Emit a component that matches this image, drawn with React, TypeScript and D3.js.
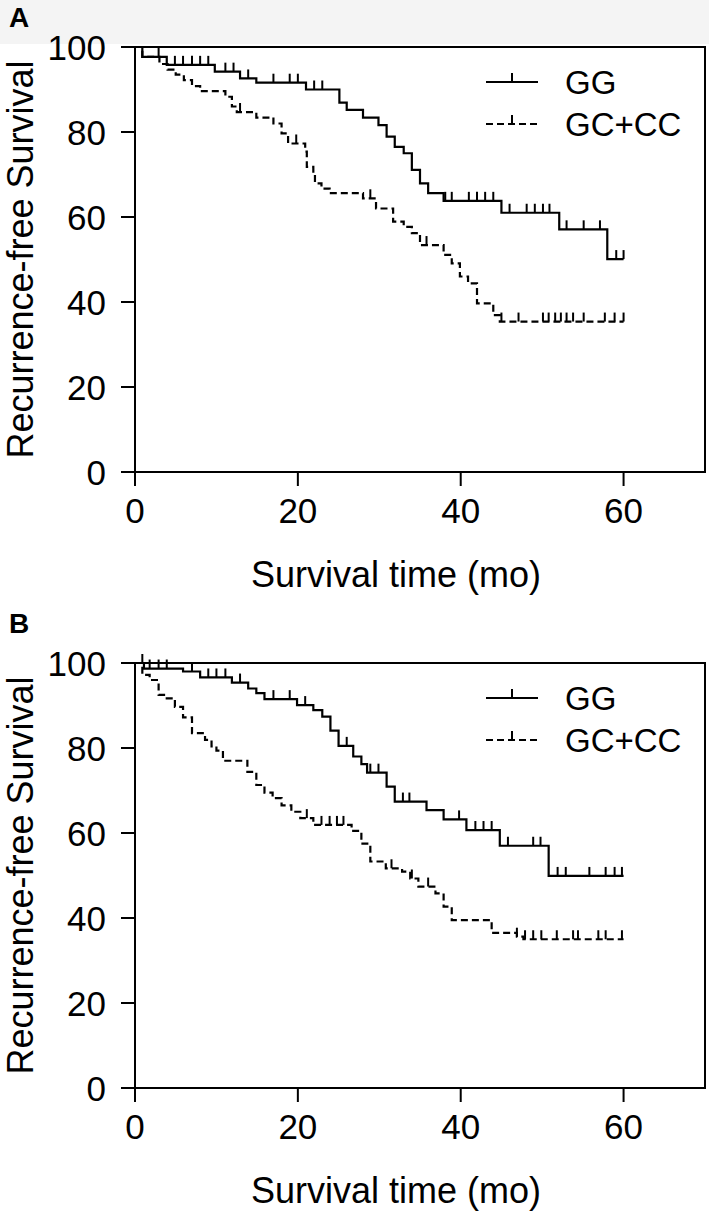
import React from "react";
import * as d3 from "d3";

// tick labels and groups
const xTicks = [0, 20, 40, 60];
const yTicks = [0, 20, 40, 60, 80, 100];
const groups = ["GG", "GC+CC"];

// Panel A, GG: event times (mo) and survival (%) after each drop, censor times
const aGGTime = [0.9, 3.9, 9.8, 12.9, 14.9, 21.0, 25.1, 26.0, 28.0, 29.9, 30.9, 31.9, 33.0, 34.0, 35.0, 36.0, 37.9, 45.0, 52.1, 58.0];
const aGGSurv = [97.7, 95.8, 94.2, 92.6, 91.6, 90.0, 86.9, 85.2, 83.4, 81.6, 78.9, 76.5, 75.0, 71.1, 67.9, 65.6, 63.8, 61.0, 57.1, 50.1];
const aGGCens = [2.9, 4.9, 5.9, 7.0, 8.0, 9.0, 11.1, 12.1, 13.9, 17.0, 19.0, 20.0, 22.0, 23.0, 38.1, 38.9, 41.0, 42.0, 43.0, 44.0, 46.0, 48.1, 49.1, 50.1, 50.9, 53.0, 55.1, 57.1, 59.1, 60.0];

// Panel A, GC+CC
const aGCTime = [0.9, 3.0, 4.0, 5.0, 6.0, 7.0, 8.0, 11.1, 11.9, 12.5, 14.9, 17.0, 18.0, 18.8, 20.9, 21.1, 21.9, 22.1, 22.9, 23.9, 28.0, 29.6, 31.7, 33.0, 34.0, 35.0, 37.9, 38.9, 39.9, 40.9, 42.0, 44.0, 44.8];
const aGCSurv = [97.7, 96.0, 94.7, 93.5, 92.2, 90.8, 89.6, 88.3, 86.0, 84.7, 83.4, 82.0, 79.7, 77.3, 75.4, 71.8, 70.3, 67.9, 66.7, 65.6, 64.4, 62.0, 58.9, 57.7, 56.2, 53.4, 51.1, 49.1, 46.0, 44.4, 39.7, 36.9, 35.4];
const aGCCens = [12.9, 19.8, 28.9, 35.8, 45.0, 47.1, 50.1, 50.8, 51.6, 52.3, 53.0, 53.8, 55.1, 57.7, 58.9, 60.0];

// Panel B, GG
const bGGTime = [1.1, 5.9, 8.0, 11.9, 13.9, 14.9, 15.9, 19.9, 21.9, 23.0, 24.0, 25.0, 26.8, 27.8, 28.5, 30.9, 31.9, 35.8, 37.9, 40.7, 44.8, 50.8];
const bGGSurv = [98.7, 98.0, 96.6, 95.4, 94.0, 92.9, 91.5, 90.1, 88.9, 87.4, 84.1, 80.5, 78.0, 76.2, 74.2, 70.9, 67.4, 65.4, 63.2, 60.7, 57.0, 49.9];
const bGGCens = [0.9, 1.8, 2.9, 3.9, 7.0, 9.0, 10.0, 11.1, 12.9, 17.0, 19.0, 20.9, 26.0, 28.9, 29.9, 32.9, 33.7, 39.8, 41.8, 42.8, 43.8, 45.8, 48.9, 49.8, 51.9, 52.9, 55.8, 57.8, 58.9, 59.8];

// Panel B, GC+CC
const bGCTime = [0.9, 1.8, 2.9, 3.9, 4.9, 5.9, 7.0, 8.6, 9.4, 10.0, 10.8, 13.8, 14.9, 15.9, 16.9, 18.0, 19.2, 20.3, 21.9, 26.6, 27.8, 28.9, 30.8, 32.8, 33.8, 34.8, 36.9, 37.9, 38.9, 43.8, 46.9, 47.7];
const bGCSurv = [97.2, 96.0, 92.5, 91.7, 89.7, 87.2, 83.5, 81.9, 80.4, 79.4, 77.0, 74.4, 71.3, 69.5, 68.2, 66.5, 65.0, 63.5, 61.9, 60.5, 57.5, 53.3, 51.7, 50.9, 49.3, 47.4, 45.8, 42.7, 39.5, 36.5, 35.6, 35.0];
const bGCCens = [21.1, 22.9, 23.9, 24.8, 25.6, 31.5, 34.0, 36.0, 46.9, 47.9, 48.9, 49.9, 51.8, 53.8, 54.4, 56.9, 57.8, 59.8];

const FONT = "'Liberation Sans', Arial, Helvetica, sans-serif";
const W = 709;
const H = 1213;
const PH = 425; // plot height
const END = 60;

const x = d3.scaleLinear().domain([0, 70]).range([135, 705]);

function survAt(times, surv, t) {
  let s = 100;
  times.forEach((tt, i) => {
    if (tt <= t) s = surv[i];
  });
  return s;
}

function Curve({ y, times, surv, cens, dashed }) {
  const pts = [[0, 100], ...times.map((t, i) => [t, surv[i]]), [END, surv[surv.length - 1]]];
  const line = d3
    .line()
    .x((d) => x(d[0]))
    .y((d) => y(d[1]))
    .curve(d3.curveStepAfter);
  return (
    <g>
      <path d={line(pts)} fill="none" stroke="#000" strokeWidth={2.2} strokeDasharray={dashed ? "7,4" : null} />
      {cens.map((c, i) => {
        const yy = y(survAt(times, surv, c));
        return <line key={i} x1={x(c)} x2={x(c)} y1={yy} y2={yy - 9} stroke="#000" strokeWidth={2} />;
      })}
    </g>
  );
}

function Panel({ top, letter, letterY, gg, gc }) {
  const y = d3.scaleLinear().domain([0, 100]).range([top + PH, top]);
  const bottom = top + PH;
  const midY = top + PH / 2;
  return (
    <g>
      <text x={9} y={letterY} fontFamily={FONT} fontWeight="bold" fontSize={28}>
        {letter}
      </text>

      {/* frame */}
      <rect x={x(0)} y={top} width={x(70) - x(0)} height={PH} fill="#fff" stroke="#000" strokeWidth={2} />

      {/* y axis */}
      {yTicks.map((t) => (
        <g key={t}>
          <line x1={121} x2={x(0)} y1={y(t)} y2={y(t)} stroke="#000" strokeWidth={2} />
          <text x={106} y={y(t)} dy="0.36em" textAnchor="end" fontFamily={FONT} fontSize={35}>
            {t}
          </text>
        </g>
      ))}

      {/* x axis */}
      {xTicks.map((t) => (
        <g key={t}>
          <line x1={x(t)} x2={x(t)} y1={bottom} y2={bottom + 14} stroke="#000" strokeWidth={2} />
          <text x={x(t)} y={bottom + 51} textAnchor="middle" fontFamily={FONT} fontSize={35}>
            {t}
          </text>
        </g>
      ))}

      <text x={396} y={top + 540} textAnchor="middle" fontFamily={FONT} fontSize={36}>
        Survival time (mo)
      </text>
      <text
        x={33}
        y={midY}
        textAnchor="middle"
        transform={`rotate(-90, 33, ${midY})`}
        fontFamily={FONT}
        fontSize={36}
      >
        Recurrence-free Survival
      </text>

      <Curve y={y} times={gg.times} surv={gg.surv} cens={gg.cens} dashed={false} />
      <Curve y={y} times={gc.times} surv={gc.surv} cens={gc.cens} dashed={true} />

      {/* legend */}
      {groups.map((g, i) => {
        const ly = top + 35 + i * 42;
        return (
          <g key={g}>
            <line x1={486} x2={538} y1={ly} y2={ly} stroke="#000" strokeWidth={2} strokeDasharray={i ? "7,4" : null} />
            <line x1={512} x2={512} y1={ly} y2={ly - 9} stroke="#000" strokeWidth={2} />
            <text x={565} y={ly} dy="0.36em" fontFamily={FONT} fontSize={33}>
              {g}
            </text>
          </g>
        );
      })}
    </g>
  );
}

export default function App() {
  return (
    <svg width={W} height={H} style={{ position: "absolute", left: 0, top: 0, display: "block", background: "#fff" }}>
      <rect x={0} y={0} width={W} height={44} fill="#f4f4f4" />
      <Panel
        top={47}
        letter="A"
        letterY={27}
        gg={{ times: aGGTime, surv: aGGSurv, cens: aGGCens }}
        gc={{ times: aGCTime, surv: aGCSurv, cens: aGCCens }}
      />
      <Panel
        top={663}
        letter="B"
        letterY={633}
        gg={{ times: bGGTime, surv: bGGSurv, cens: bGGCens }}
        gc={{ times: bGCTime, surv: bGCSurv, cens: bGCCens }}
      />
    </svg>
  );
}
